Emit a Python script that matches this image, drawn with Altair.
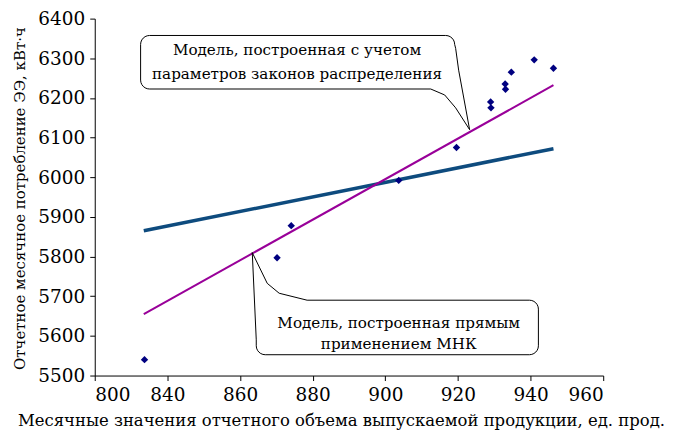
import math
import altair as alt
import pandas as pd

# ---- data ----
obs_x = [833.7, 870.2, 874.1, 903.7, 919.6, 929.0, 929.1, 933.0, 933.1, 934.7, 941.0, 946.3]
obs_y = [5540, 5797, 5878, 5992, 6075, 6190, 6175, 6235, 6222, 6265, 6296, 6275]

line_names = ["mnk", "mnk", "dist", "dist"]
line_x = [833.5, 946.3, 833.5, 946.3]
line_y = [5865, 6072, 5655, 6232]

x_ticks = [820, 840, 860, 880, 900, 920, 940, 960]
y_ticks = [5500, 5600, 5700, 5800, 5900, 6000, 6100, 6200, 6300, 6400]

callout_lines = [
    ("Модель, построенная с учетом", 875.7, 6320),
    ("параметров законов распределения", 875.7, 6260),
    ("Модель, построенная прямым", 903.7, 5632),
    ("применением МНК", 903.7, 5580),
]

W, H = 510, 358
XD = [820, 960]
YD = [5500, 6400]
kx = W / (XD[1] - XD[0])
ky = 360 / (YD[1] - YD[0])


def to_data(px, py):
    return XD[0] + (px - 95) / kx, YD[0] + (376 - py) / ky


def arc(cx, cy, r, a0, a1, n=6):
    pts = []
    for i in range(n + 1):
        a = math.radians(a0 + (a1 - a0) * i / n)
        pts.append((cx + r * math.cos(a), cy + r * math.sin(a)))
    return pts


r = 9
upper = []
upper += arc(141 + r, 33 + r, r, 180, 270)
upper += arc(456 - r, 33 + r, r, 270, 360)
upper += [(457, 46), (460, 68), (471, 128), (457, 106), (446, 93), (432, 87)]
upper += arc(141 + r, 87 - r, r, 90, 180)
upper.append(upper[0])

lower = [(308, 300)]
lower += arc(540 - r, 300 + r, r, 270, 360)
lower += arc(540 - r, 355 - r, r, 0, 90)
lower += arc(257 + r, 355 - r, r, 90, 180)
lower += [(257, 340), (253, 252), (268, 283), (280, 293), (308, 300)]

rows = []
for name, pts in (("up", upper), ("low", lower)):
    for i, (px, py) in enumerate(pts):
        dx, dy = to_data(px, py)
        rows.append({"c": name, "i": i, "x": dx, "y": dy})
outline_df = pd.DataFrame(rows)

pts_df = pd.DataFrame({"x": obs_x, "y": obs_y})
lines_df = pd.DataFrame({"m": line_names, "x": line_x, "y": line_y})
text_df = pd.DataFrame(callout_lines, columns=["t", "x", "y"])

FONT = "DejaVu Serif"

xscale = alt.Scale(domain=XD, nice=False, zero=False)
yscale = alt.Scale(domain=YD, nice=False, zero=False)

xaxis = alt.Axis(
    values=x_ticks,
    labelExpr="datum.value == 820 ? '800' : datum.label",
    title="Месячные значения отчетного объема выпускаемой продукции, ед. прод.",
    grid=False,
    tickSize=5,
    labelOverlap=False,
    labelPadding=5,
    titleFontSize=16.5,
    titlePadding=9,
    titleX=247,
)
yaxis = alt.Axis(
    values=y_ticks,
    format="d",
    title="Отчетное месячное потребление ЭЭ, кВт·ч",
    grid=False,
    tickSize=5,
    labelOverlap=False,
    labelPadding=5,
    titleFontSize=15,
    titleX=-70,
    titleY=180,
    titleAngle=-90,
    titleBaseline="alphabetic",
    titleAlign="center",
)

X = alt.X("x:Q", scale=xscale, axis=xaxis)
Y = alt.Y("y:Q", scale=yscale, axis=yaxis)

lines = alt.Chart(lines_df).mark_line(clip=True).encode(
    x=X,
    y=Y,
    detail="m:N",
    color=alt.Color("m:N", scale=alt.Scale(domain=["mnk", "dist"], range=["#0E4B7E", "#990099"]), legend=None),
    strokeWidth=alt.StrokeWidth("m:N", scale=alt.Scale(domain=["mnk", "dist"], range=[3.5, 2]), legend=None),
)

points = alt.Chart(pts_df).mark_point(shape="diamond", filled=True, color="#000080", size=55, opacity=1).encode(
    x=X, y=Y
)

outline = alt.Chart(outline_df).mark_line(color="black", strokeWidth=1, interpolate="linear").encode(
    x=X, y=Y, detail="c:N", order="i:Q"
)

texts = alt.Chart(text_df).mark_text(font=FONT, fontSize=15.2, color="black", baseline="middle", align="center").encode(
    x=X, y=Y, text="t:N"
)

chart = (
    alt.layer(lines, points, outline, texts)
    .properties(
        width=W,
        height=H,
        autosize=alt.AutoSizeParams(type="none"),
        padding={"left": 87, "top": 10, "right": 70, "bottom": 62},
    )
    .configure(
        background="white",
        font=FONT,
        view=alt.ViewConfig(stroke=None),
        axis=alt.AxisConfig(
            labelFont=FONT,
            titleFont=FONT,
            labelFontSize=18.5,
            labelColor="black",
            titleColor="black",
            titleFontWeight="normal",
            domainColor="black",
            tickColor="black",
            labelOverlap=False,
        ),
    )
)

chart.save("out.html", embed_options={"renderer": "svg", "actions": False})
